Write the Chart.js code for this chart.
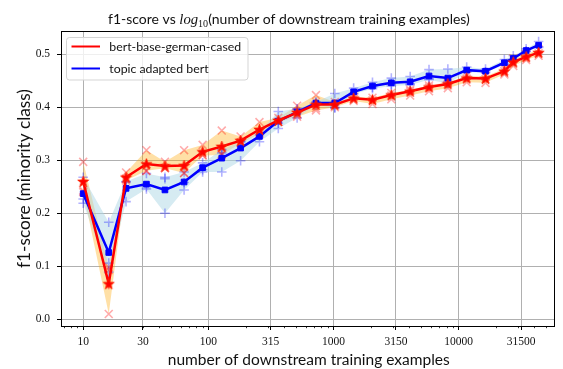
<!DOCTYPE html>
<html>
<head>
<meta charset="utf-8">
<script src="https://cdn.jsdelivr.net/npm/chart.js@4.4.0/dist/chart.umd.min.js"></script>
<style>
html,body{margin:0;padding:0;background:#fff;overflow:hidden}
#c{display:block;width:563px;height:369px}
</style>
</head>
<body>
<canvas id="c" width="563" height="369"></canvas>
<script>
// ---------------- data ----------------
const xValues = [10, 16, 22, 32, 45, 64, 90, 128, 181, 256, 362, 512, 724, 1024, 1448, 2048, 2896, 4096, 5793, 8192, 11585, 16384, 23170, 27300, 34600, 43500];

const seriesNames = ['bert-base-german-cased', 'topic adapted bert'];

const redMean  = [0.260, 0.067, 0.268, 0.293, 0.289, 0.290, 0.316, 0.326, 0.337, 0.358, 0.375, 0.390, 0.405, 0.405, 0.417, 0.414, 0.423, 0.430, 0.438, 0.444, 0.455, 0.454, 0.468, 0.485, 0.495, 0.503];
const blueMean = [0.237, 0.126, 0.247, 0.255, 0.244, 0.259, 0.286, 0.304, 0.323, 0.345, 0.374, 0.391, 0.408, 0.408, 0.429, 0.440, 0.446, 0.448, 0.459, 0.455, 0.470, 0.468, 0.484, 0.492, 0.507, 0.517];

const redRunA = [0.297, 0.010, 0.277, 0.319, 0.297, 0.319, 0.329, 0.356, 0.345, 0.372, 0.380, 0.403, 0.423, 0.410, 0.420, 0.418, 0.427, 0.433, 0.441, 0.447, 0.459, 0.458, 0.473, 0.492, 0.500, 0.509];
const redRunB = [0.243, 0.093, 0.265, 0.280, 0.285, 0.276, 0.310, 0.312, 0.334, 0.352, 0.372, 0.385, 0.394, 0.400, 0.412, 0.413, 0.422, 0.430, 0.437, 0.444, 0.454, 0.453, 0.468, 0.484, 0.494, 0.502];
const redRunC = [0.240, 0.098, 0.262, 0.280, 0.285, 0.276, 0.309, 0.310, 0.332, 0.350, 0.372, 0.382, 0.398, 0.405, 0.416, 0.406, 0.415, 0.422, 0.430, 0.436, 0.447, 0.446, 0.462, 0.478, 0.489, 0.497];

const blueRunA = [0.268, 0.183, 0.260, 0.275, 0.268, 0.278, 0.295, 0.320, 0.335, 0.352, 0.392, 0.397, 0.410, 0.426, 0.436, 0.447, 0.455, 0.458, 0.471, 0.472, 0.476, 0.472, 0.490, 0.497, 0.510, 0.524];
const blueRunB = [0.219, 0.106, 0.259, 0.250, 0.265, 0.244, 0.282, 0.314, 0.335, 0.348, 0.360, 0.396, 0.405, 0.400, 0.425, 0.438, 0.443, 0.444, 0.454, 0.448, 0.468, 0.467, 0.482, 0.490, 0.506, 0.514];
const blueRunC = [0.227, 0.089, 0.222, 0.246, 0.200, 0.258, 0.278, 0.278, 0.299, 0.335, 0.370, 0.380, 0.409, 0.398, 0.426, 0.435, 0.440, 0.442, 0.452, 0.445, 0.466, 0.465, 0.480, 0.489, 0.505, 0.513];

const xTickValues = [10, 30, 100, 315, 1000, 3150, 10000, 31500];
const xTickLabels = ['10', '30', '100', '315', '1000', '3150', '10000', '31500'];
const yTickValues = [0.0, 0.1, 0.2, 0.3, 0.4, 0.5];
const yTickLabels = ['0.0', '0.1', '0.2', '0.3', '0.4', '0.5'];

const titleParts = ['f1-score vs ', 'log', '10', '(number of downstream training examples)'];
const xAxisTitle = 'number of downstream training examples';
const yAxisTitle = 'f1-score (minority class)';

// ---------------- helpers ----------------
const toPts = arr => xValues.map((x, i) => ({x: x, y: arr[i]}));
const runPts = runs => { const out = []; runs.forEach(r => r.forEach((v, i) => out.push({x: xValues[i], y: v}))); return out; };
const bandHi = runs => xValues.map((x, i) => ({x: x, y: Math.max(...runs.map(r => r[i]))}));
const bandLo = runs => xValues.map((x, i) => ({x: x, y: Math.min(...runs.map(r => r[i]))}));

const redRuns = [redRunA, redRunB, redRunC];
const blueRuns = [blueRunA, blueRunB, blueRunC];

// star marker
const star = document.createElement('canvas');
star.width = 13; star.height = 13;
(function () {
  const g = star.getContext('2d');
  g.beginPath();
  for (let k = 0; k < 10; k++) {
    const r = (k % 2 === 0) ? 5.9 : 2.4;
    const a = -Math.PI / 2 + k * Math.PI / 5;
    const px = 6.5 + r * Math.cos(a), py = 6.9 + r * Math.sin(a);
    if (k === 0) g.moveTo(px, py); else g.lineTo(px, py);
  }
  g.closePath();
  g.fillStyle = '#ff0000';
  g.fill();
  g.strokeStyle = '#ff2a00';
  g.lineWidth = 0.8;
  g.stroke();
})();

// axis frame (pixel geometry of the reference plot box)
const xMin = Math.pow(10, 0.8227), xMax = Math.pow(10, 4.7655);
const yMin = -0.0126, yMax = 0.5438;

const sansFamily = 'Lato, "Open Sans", "DejaVu Sans", sans-serif';
const serifFamily = '"Liberation Serif", "DejaVu Serif", serif';

function fitFont(ctx, text, family, target, style) {
  ctx.font = (style || '') + ' 20px ' + family;
  const w = ctx.measureText(text).width;
  return 20 * target / w;
}

const decor = {
  id: 'decor',
  afterDraw(chart) {
    const ctx = chart.ctx, a = chart.chartArea, xs = chart.scales.x;
    ctx.save();
    // top and right spines
    ctx.strokeStyle = '#000';
    ctx.lineWidth = 1;
    ctx.beginPath();
    ctx.moveTo(a.left, Math.round(a.top) + 0.5);
    ctx.lineTo(a.right, Math.round(a.top) + 0.5);
    ctx.moveTo(Math.round(a.right) - 0.5, a.top);
    ctx.lineTo(Math.round(a.right) - 0.5, a.bottom);
    ctx.stroke();
    // minor ticks (log minors)
    ctx.lineWidth = 0.8;
    ctx.beginPath();
    for (let d = 1; d <= 10000; d *= 10) {
      for (let m = 2; m <= 9; m++) {
        const v = m * d;
        if (v < xMin || v > xMax) continue;
        const px = Math.round(xs.getPixelForValue(v)) + 0.5;
        ctx.moveTo(px, a.bottom);
        ctx.lineTo(px, a.bottom + 2.2);
      }
    }
    ctx.stroke();

    ctx.fillStyle = '#111';
    // title
    {
      let s = 15;
      const measure = size => {
        ctx.font = size + 'px ' + sansFamily; const w1 = ctx.measureText(titleParts[0]).width;
        ctx.font = 'italic ' + (size * 1.05) + 'px ' + serifFamily; const w2 = ctx.measureText(titleParts[1]).width;
        ctx.font = (size * 0.72) + 'px ' + serifFamily; const w3 = ctx.measureText(titleParts[2]).width;
        ctx.font = size + 'px ' + sansFamily; const w4 = ctx.measureText(titleParts[3]).width;
        return [w1, w2, w3, w4];
      };
      let ws = measure(s);
      let tot = ws.reduce((p, q) => p + q, 0);
      s = s * 362 / tot;
      ws = measure(s);
      let x = 108, yb = 23.5;
      ctx.textBaseline = 'alphabetic'; ctx.textAlign = 'left';
      ctx.font = s + 'px ' + sansFamily; ctx.fillText(titleParts[0], x, yb); x += ws[0];
      ctx.font = 'italic ' + (s * 1.05) + 'px ' + serifFamily; ctx.fillText(titleParts[1], x, yb); x += ws[1];
      ctx.font = (s * 0.72) + 'px ' + serifFamily; ctx.fillText(titleParts[2], x, yb + s * 0.22); x += ws[2];
      ctx.font = s + 'px ' + sansFamily; ctx.fillText(titleParts[3], x, yb);
    }
    // x axis title
    {
      const s = fitFont(ctx, xAxisTitle, sansFamily, 282);
      ctx.font = s + 'px ' + sansFamily;
      ctx.textAlign = 'center'; ctx.textBaseline = 'alphabetic';
      ctx.fillText(xAxisTitle, (a.left + a.right) / 2 + 1, 364.5);
    }
    // y axis title
    {
      const s = fitFont(ctx, yAxisTitle, sansFamily, 179);
      ctx.save();
      ctx.translate(30, (a.top + a.bottom) / 2);
      ctx.rotate(-Math.PI / 2);
      ctx.font = s + 'px ' + sansFamily;
      ctx.textAlign = 'center'; ctx.textBaseline = 'alphabetic';
      ctx.fillText(yAxisTitle, 0, 0);
      ctx.restore();
    }
    // legend
    {
      const bx = 66.5, by = 37.5, bw = 181.5, bh = 42.5;
      ctx.beginPath();
      ctx.roundRect(bx, by, bw, bh, 3);
      ctx.fillStyle = 'rgba(255,255,255,0.8)';
      ctx.fill();
      ctx.strokeStyle = '#d5d5d5';
      ctx.lineWidth = 1;
      ctx.stroke();
      const rows = [{c: '#ff0000', y: 46.5, t: seriesNames[0]}, {c: '#0000ff', y: 68.5, t: seriesNames[1]}];
      const s = fitFont(ctx, seriesNames[0], sansFamily, 132);
      rows.forEach(r => {
        ctx.strokeStyle = r.c; ctx.lineWidth = 2;
        ctx.beginPath(); ctx.moveTo(71.5, r.y); ctx.lineTo(100, r.y); ctx.stroke();
        ctx.fillStyle = '#111';
        ctx.font = s + 'px ' + sansFamily;
        ctx.textAlign = 'left'; ctx.textBaseline = 'middle';
        ctx.fillText(r.t, 109.3, r.y + 0.5);
      });
    }
    ctx.restore();
  }
};

const gridCfg = {color: '#b0b0b0', lineWidth: 1, tickColor: '#000', tickLength: 4, tickWidth: 1, drawOnChartArea: true};

new Chart(document.getElementById('c'), {
  type: 'line',
  data: {
    datasets: [
      {label: seriesNames[0], data: toPts(redMean), borderColor: '#ff0000', backgroundColor: '#ff0000',
       borderWidth: 2.5, pointStyle: star, pointRadius: 6, tension: 0, fill: false, order: 0},
      {label: seriesNames[1], data: toPts(blueMean), borderColor: '#0000ff', backgroundColor: '#0000ff',
       borderWidth: 2.5, pointStyle: 'rect', pointRadius: 4, pointBorderWidth: 1, tension: 0, fill: false, order: 1},
      {label: 'runs 1', data: runPts(redRuns), showLine: false, pointStyle: 'crossRot', pointRadius: 5.6,
       pointBorderWidth: 1.6, borderColor: 'rgba(255,0,0,0.33)', backgroundColor: 'rgba(255,0,0,0.33)', order: 2},
      {label: 'runs 2', data: runPts(blueRuns), showLine: false, pointStyle: 'cross', pointRadius: 4.8,
       pointBorderWidth: 1.6, borderColor: 'rgba(0,0,255,0.3)', backgroundColor: 'rgba(0,0,255,0.3)', order: 3},
      {label: 'band 2 hi', data: bandHi(blueRuns), borderWidth: 0, pointRadius: 0, tension: 0,
       fill: 5, backgroundColor: 'rgba(173,216,230,0.5)', borderColor: 'rgba(0,0,0,0)', order: 4},
      {label: 'band 2 lo', data: bandLo(blueRuns), borderWidth: 0, pointRadius: 0, tension: 0,
       fill: false, borderColor: 'rgba(0,0,0,0)', order: 5},
      {label: 'band 1 hi', data: bandHi(redRuns), borderWidth: 0, pointRadius: 0, tension: 0,
       fill: 7, backgroundColor: 'rgba(255,165,0,0.35)', borderColor: 'rgba(0,0,0,0)', order: 6},
      {label: 'band 1 lo', data: bandLo(redRuns), borderWidth: 0, pointRadius: 0, tension: 0,
       fill: false, borderColor: 'rgba(0,0,0,0)', order: 7}
    ]
  },
  options: {
    responsive: false,
    animation: false,
    events: [],
    layout: {padding: {left: 0, right: 6, top: 31, bottom: 0}},
    plugins: {legend: {display: false}, title: {display: false}, tooltip: {enabled: false}, filler: {propagate: false}},
    scales: {
      x: {
        type: 'logarithmic', position: 'bottom', min: xMin, max: xMax, bounds: 'data',
        afterBuildTicks: s => { s.ticks = xTickValues.map(v => ({value: v})); },
        afterFit: s => { s.height = 43; },
        ticks: {
          autoSkip: false, maxRotation: 0, minRotation: 0, padding: 5, color: '#111',
          font: {family: serifFamily, size: 11.5},
          callback: v => { const i = xTickValues.indexOf(v); return i >= 0 ? xTickLabels[i] : ''; }
        },
        grid: gridCfg,
        border: {display: true, color: '#000', width: 1}
      },
      y: {
        type: 'linear', position: 'left', min: yMin, max: yMax, bounds: 'data',
        afterBuildTicks: s => { s.ticks = yTickValues.map(v => ({value: v})); },
        afterFit: s => { s.width = 61; },
        ticks: {
          padding: 7, color: '#111', font: {family: serifFamily, size: 11.5},
          callback: v => { const i = yTickValues.findIndex(t => Math.abs(t - v) < 1e-9); return i >= 0 ? yTickLabels[i] : ''; }
        },
        grid: gridCfg,
        border: {display: true, color: '#000', width: 1}
      }
    }
  },
  plugins: [decor]
});
</script>
</body>
</html>
